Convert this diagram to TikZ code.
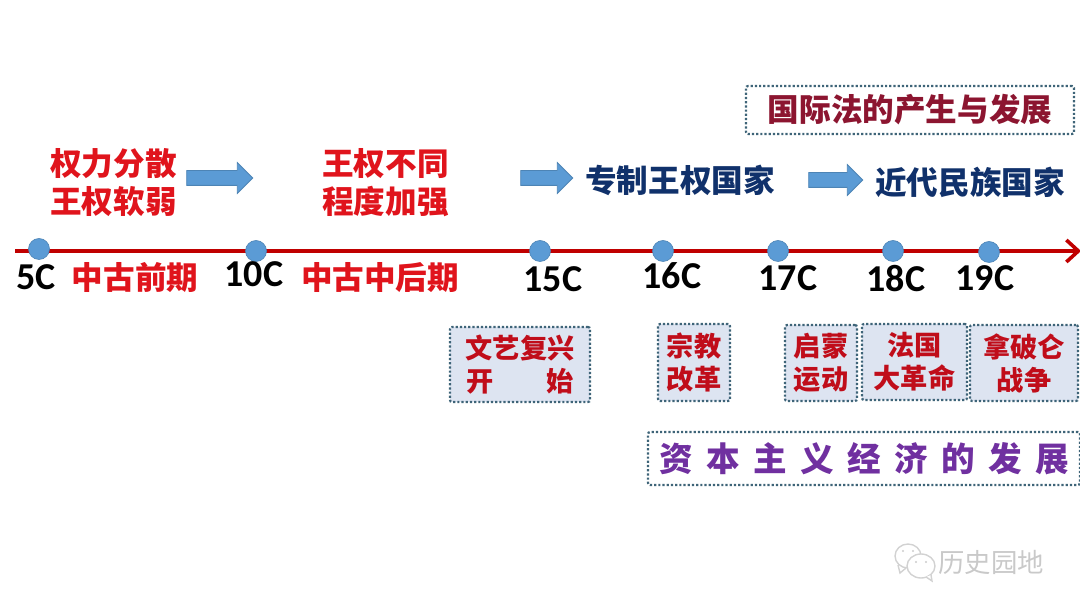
\documentclass[tikz,border=0pt]{standalone}
\usepackage{fontspec}
\setmainfont{Carlito}
\newfontfamily\cjk{Noto Sans CJK SC}
\newfontfamily\cjkwide[LetterSpace=40]{Noto Sans CJK SC}
\usetikzlibrary{arrows.meta,shapes.arrows}
\definecolor{lineRed}{HTML}{C00000}
\definecolor{dotBlue}{HTML}{5B9BD5}
\definecolor{boxFill}{HTML}{DDE4F1}
\definecolor{boxLine}{HTML}{3E6478}
\definecolor{textRed}{HTML}{E0141C}
\definecolor{textNavy}{HTML}{10316B}
\definecolor{textMaroon}{HTML}{8C1530}
\definecolor{textCrimson}{HTML}{C00D1A}
\definecolor{textPurple}{HTML}{7030A0}
\tikzset{
    phase/.style={font=\cjk\bfseries\fontsize{15.8}{19}\selectfont,align=center,inner sep=0pt},
    era/.style={phase,text=textRed},
    state/.style={phase,text=textNavy},
    event/.style={draw=boxLine,fill=boxFill,densely dotted,line width=1.1pt,rounded corners=1pt,
        text=textCrimson,font=\cjk\bfseries\fontsize{13.6}{16.5}\selectfont,align=center,inner sep=0pt},
    frame/.style={draw=boxLine,densely dotted,line width=1.1pt,rounded corners=1pt,inner sep=0pt},
    bigarrow/.style={single arrow,draw=dotBlue!85!black,fill=dotBlue,line width=0.4pt,
        single arrow head extend=4pt,inner xsep=0pt,inner ysep=3.5pt,minimum height=#1,
        single arrow head indent=0pt},
    tick/.style={circle,fill=dotBlue,draw=dotBlue!85!black,line width=0.3pt,minimum size=10.5pt,inner sep=0pt},
    century/.style={font=\bfseries\fontsize{19}{20}\selectfont,inner sep=0pt}
}
\begin{document}
\begin{tikzpicture}[x=0.5pt,y=-0.5pt]
    \useasboundingbox (0,0) rectangle (1080,608);

    % timeline
    \coordinate (start) at (15,251);
    \coordinate (end) at (1081,251);
    \draw[lineRed,line width=2.2pt,-{Straight Barb[length=6pt,width=11pt,line width=1.8pt]}] (start)--(end);

    \foreach \nm/\px/\py/\lx/\ly in {5/39/249/36/277,10/256/251/254/274,15/540/251/553/279,
        16/663/251/672/276,17/778/251/788/278,18/893/251/896/279,19/989/252/985/278} {
        \node[tick] (dot\nm) at (\px,\py) {};
        \node[century] (cent\nm) at (\lx,\ly) {\nm C};
    }

    \node[era] (fenquan) at (113.5,183) {权力分散\\王权软弱};
    \node[era] (butong) at (385.5,183) {王权不同\\程度加强};
    \node[state] (zhuanzhi) at (680,180) {专制王权国家};
    \node[state] (jindai) at (970,182) {近代民族国家};
    \node[era] (qianqi) at (135,278) {中古前期};
    \node[era] (zhonghou) at (380,278) {中古中后期};

    \node[bigarrow=33pt] (arrowa) at (216,178) {};
    \node[bigarrow=26pt] (arrowb) at (543,178) {};
    \node[bigarrow=27pt] (arrowc) at (832,180) {};

    % top and bottom frames
    \node[frame,minimum width=164pt,minimum height=24pt,text=textMaroon,
        font=\cjk\bfseries\fontsize{15.8}{19}\selectfont] (guoji) at (910,110) {\raisebox{-0.7pt}{国际法的产生与发展}};
    \node[frame,minimum width=216pt,minimum height=26.5pt,text=textPurple,
        font=\cjkwide\bfseries\fontsize{16.8}{19}\selectfont] (ziben) at (864,458.5) {资本主义经济的发展};

    % event boxes
    \node[event,minimum width=70pt,minimum height=37.5pt] (wenyi) at (520,364.5) {文艺复兴\\开\hspace{1.95em}始};
    \node[event,minimum width=36pt,minimum height=38.5pt] (zongjiao) at (694,362.5) {宗教\\改革};
    \node[event,minimum width=36pt,minimum height=38pt] (qimeng) at (821,363) {启蒙\\运动};
    \node[event,minimum width=52.5pt,minimum height=38pt] (faguo) at (914.5,362) {法国\\大革命};
    \node[event,minimum width=54pt,minimum height=38pt] (napolun) at (1024,363) {拿破仑\\战争};

    % watermark
    \draw[gray!35,line width=0.7pt] (908,556) ellipse (13 and 12);
    \draw[gray!35,line width=0.7pt] (898,565)--(900,573)--(906,568);
    \draw[gray!35,line width=0.7pt,fill=white] (921,566) ellipse (14 and 12);
    \draw[gray!35,line width=0.7pt,fill=white] (926,577)--(932,581)--(931,575);
    \fill[gray!40] (903,551) circle (1.1) (913,551) circle (1.1) (916,562) circle (1.1) (926,562) circle (1.1);
    \node[text=gray!42,inner sep=0pt,font=\cjk\fontsize{13.2}{16}\selectfont] (mark) at (991,562) {历史园地};
\end{tikzpicture}
\end{document}
